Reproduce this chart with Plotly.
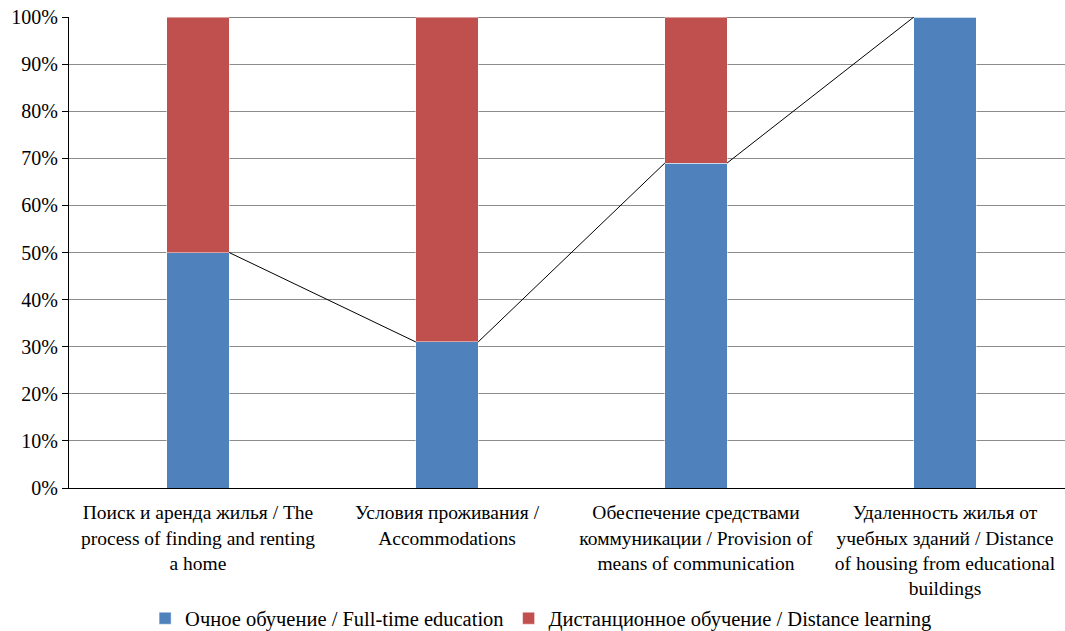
import plotly.graph_objects as go

categories = [
    "Поиск и аренда жилья / The<br>process of finding and renting<br>a home",
    "Условия проживания /<br>Accommodations",
    "Обеспечение средствами<br>коммуникации / Provision of<br>means of communication",
    "Удаленность жилья от<br>учебных зданий / Distance<br>of housing from educational<br>buildings",
]
full_time = [50, 31, 69, 100]
distance = [50, 69, 31, 0]
y_ticks = [0, 10, 20, 30, 40, 50, 60, 70, 80, 90, 100]

BLUE = "#4f81bd"
RED = "#c0504d"
FONT = "Liberation Serif"
BAR_W = 0.25

xs = list(range(len(categories)))

fig = go.Figure()
fig.add_trace(go.Bar(
    x=xs, y=full_time, name="Очное обучение / Full-time education",
    marker=dict(color=BLUE, line=dict(color="rgba(255,255,255,0.45)", width=1)),
    width=BAR_W,
))
fig.add_trace(go.Bar(
    x=xs, y=distance, name="Дистанционное обучение / Distance learning",
    marker=dict(color=RED, line=dict(color="rgba(255,255,255,0.45)", width=1)),
    width=BAR_W,
))

# Series lines joining the top of each stacked segment between neighbouring bars
tops_blue = full_time
tops_red = [a + b for a, b in zip(full_time, distance)]
for tops in (tops_blue, tops_red):
    for i in range(len(xs) - 1):
        fig.add_trace(go.Scatter(
            x=[xs[i] + BAR_W / 2, xs[i + 1] - BAR_W / 2],
            y=[tops[i], tops[i + 1]],
            mode="lines", line=dict(color="black", width=1),
            showlegend=False, hoverinfo="skip",
        ))

fig.update_layout(
    template="none",
    barmode="stack",
    width=1065, height=631,
    margin=dict(l=69, r=0, t=17, b=143, autoexpand=False),
    paper_bgcolor="white", plot_bgcolor="white",
    font=dict(family=FONT, size=20, color="black"),
    legend=dict(
        orientation="h", x=0.474, xanchor="center",
        yref="container", y=0.02, yanchor="middle",
        font=dict(family=FONT, size=20.5, color="black"), itemwidth=30,
        traceorder="normal",
    ),
)
fig.update_xaxes(
    range=[-0.518, 3.482], tickvals=xs, ticktext=categories,
    showline=True, linecolor="black", linewidth=1,
    showgrid=False, ticks="", zeroline=False, automargin=False,
    ticklabelstandoff=7,
    tickfont=dict(family=FONT, size=19.5, color="black"),
)
fig.update_yaxes(
    range=[0, 100], tickvals=y_ticks, ticktext=[f"{v}%" for v in y_ticks],
    showline=True, linecolor="black", linewidth=1,
    showgrid=True, gridcolor="#8c8c8c", gridwidth=1,
    ticks="outside", ticklen=6, tickcolor="black",
    zeroline=False, automargin=False,
    tickfont=dict(family=FONT, size=20, color="black"),
)

fig.write_html("out.html")
